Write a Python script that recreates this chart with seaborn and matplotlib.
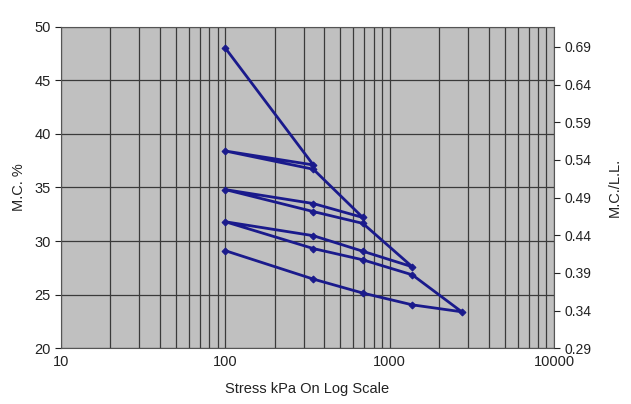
import numpy as np
import pandas as pd
import matplotlib
matplotlib.use("Agg")
import matplotlib.pyplot as plt
import matplotlib.ticker as mticker
import seaborn as sns

# --- dados ---
stress = [100, 343, 100, 343, 686, 343, 100, 343, 686, 1372, 686,
          343, 100, 343, 686, 1372, 2744, 1372, 686, 343, 100]
mc = [48.0, 37.1, 38.4, 36.7, 32.2, 33.5, 34.8, 32.75, 31.65, 27.6, 29.05,
      30.5, 31.8, 29.3, 28.25, 26.85, 23.4, 24.05, 25.15, 26.45, 29.1]
step = list(range(len(stress)))

left_ticks = [20, 25, 30, 35, 40, 45, 50]
right_ticks = [0.29, 0.34, 0.39, 0.44, 0.49, 0.54, 0.59, 0.64, 0.69]
x_ticks = [10, 100, 1000, 10000]

LINE_COLOR = "#1a1a8c"
GRID_COLOR = "#3a3a3a"
TEXT_COLOR = "#222222"

sns.set_theme(style="ticks")
plt.rcParams['font.family'] = ['Liberation Sans', 'DejaVu Sans']

df = pd.DataFrame({"Stress": stress, "MC": mc, "Step": step})

fig = plt.figure(figsize=(6.31, 4.04), dpi=100)
ax = fig.add_axes([0.0967, 0.138, 0.7813, 0.796])
ax.set_facecolor("#c0c0c0")

sns.lineplot(ax=ax, data=df, x="Stress", y="MC", sort=False, estimator=None,
             color=LINE_COLOR, linewidth=2.0, marker="D", markersize=3.5,
             markeredgecolor=LINE_COLOR, markerfacecolor=LINE_COLOR)

ax.set_xscale("log")
ax.set_xlim(10, 10000)
ax.set_ylim(20, 50)
ax.set_yticks(left_ticks)
ax.xaxis.set_major_locator(mticker.FixedLocator(x_ticks))
ax.xaxis.set_major_formatter(mticker.FixedFormatter([str(t) for t in x_ticks]))
ax.xaxis.set_minor_locator(mticker.LogLocator(base=10, subs=np.arange(2, 10)))
ax.xaxis.set_minor_formatter(mticker.NullFormatter())

# grade
ax.grid(True, which="major", axis="both", color=GRID_COLOR, linewidth=0.9)
ax.grid(True, which="minor", axis="x", color=GRID_COLOR, linewidth=0.9)
ax.set_axisbelow(True)

ax.tick_params(axis="x", which="both", length=0, labelsize=10.5, pad=5, colors=TEXT_COLOR)
ax.tick_params(axis="y", which="major", length=4, width=0.8, labelsize=10.5, colors=TEXT_COLOR,
               direction="out")
for s in ax.spines.values():
    s.set_color("#555555")
    s.set_linewidth(0.8)

ax.set_xlabel("Stress kPa On Log Scale", fontsize=10.5, color=TEXT_COLOR, labelpad=9)
ax.set_ylabel("M.C. %", fontsize=10.5, color=TEXT_COLOR, labelpad=6)

# eixo secundário M.C./L.L.
ax2 = ax.twinx()
ax2.set_ylim(0.29, 0.717)
ax2.set_yticks(right_ticks)
ax2.set_yticklabels([f"{t:.2f}" for t in right_ticks])
ax2.tick_params(axis="y", length=4, width=0.8, labelsize=10, colors=TEXT_COLOR, direction="out")
ax2.set_ylabel("M.C./L.L.", fontsize=10.5, color=TEXT_COLOR, labelpad=12)
for s in ax2.spines.values():
    s.set_visible(False)

fig.savefig("out.png", dpi=100, facecolor="white")
